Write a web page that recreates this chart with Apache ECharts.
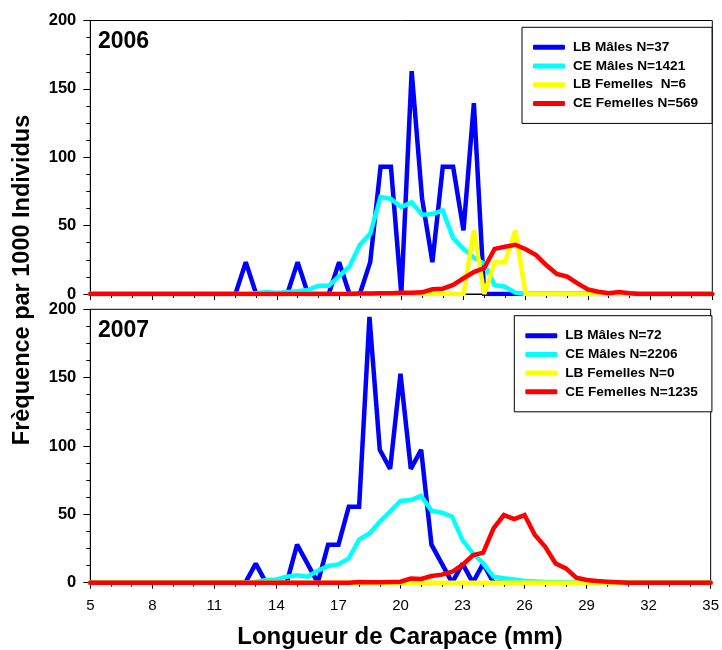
<!DOCTYPE html>
<html>
<head>
<meta charset="utf-8">
<script src="https://cdn.jsdelivr.net/npm/echarts@6/dist/echarts.min.js"></script>
<style>
  html, body { margin: 0; padding: 0; background: #fff; }
  #chart { width: 722px; height: 650px; }
</style>
</head>
<body>
<div id="chart"></div>
<script>
// Carapace length classes (mm), 0.5 mm steps
const lengths = [
  5, 5.5, 6, 6.5, 7, 7.5, 8, 8.5, 9, 9.5,
  10, 10.5, 11, 11.5, 12, 12.5, 13, 13.5, 14, 14.5,
  15, 15.5, 16, 16.5, 17, 17.5, 18, 18.5, 19, 19.5,
  20, 20.5, 21, 21.5, 22, 22.5, 23, 23.5, 24, 24.5,
  25, 25.5, 26, 26.5, 27, 27.5, 28, 28.5, 29, 29.5,
  30, 30.5, 31, 31.5, 32, 32.5, 33, 33.5, 34, 34.5,
  35
];

const xTicks = [5, 8, 11, 14, 17, 20, 23, 26, 29, 32, 35];
const yTicks = [0, 50, 100, 150, 200];

// 2006 — frequency per 1000 individuals
const names2006 = ['LB Mâles N=37', 'CE Mâles N=1421', 'LB Femelles  N=6', 'CE Femelles N=569'];
const lbMales2006 = [
  0, 0, 0, 0, 0, 0, 0, 0, 0, 0,
  0, 0, 0, 0, 0, 23.3, 0, 0, 0, 0,
  23.3, 0, 0, 0, 23.3, 0, 0, 23.3, 93, 93,
  0, 163, 70, 23.3, 93, 93, 46.5, 139.5, 0, 0,
  0, 0, 0, 0, 0, 0, 0, 0, 0, 0,
  0, 0, 0, 0, 0, 0, 0, 0, 0, 0,
  0
];
const ceMales2006 = [
  0, 0, 0, 0, 0, 0, 0, 0, 0, 0,
  0, 0, 0, 0, 0, 0, 0.5, 1.5, 0.7, 1.5,
  2, 3, 6, 6, 13, 20, 36, 44, 71, 69.5,
  63.5, 67, 58, 58.5, 61, 41, 33, 26.5, 22, 6.5,
  5.3, 1, 0, 0, 0, 0, 0, 0, 0, 0,
  0, 0, 0, 0, 0, 0, 0, 0, 0, 0,
  0
];
const lbFemelles2006 = [
  0, 0, 0, 0, 0, 0, 0, 0, 0, 0,
  0, 0, 0, 0, 0, 0, 0, 0, 0, 0,
  0, 0, 0, 0, 0, 0, 0, 0, 0, 0,
  0, 0, 0, 0, 0, 0, 0, 46.5, 0, 23.3,
  23.3, 46.5, 0, 0, 0, 0, 0, 0, 0, 0,
  0, 0, 0, 0, 0, 0, 0, 0, 0, 0,
  0
];
const ceFemelles2006 = [
  0, 0, 0, 0, 0, 0, 0, 0, 0, 0,
  0, 0, 0, 0, 0, 0, 0, 0, 0, 0,
  0, 0, 0, 0, 0, 0, 0.3, 0.3, 0.5, 0.5,
  1, 1, 1.2, 3.4, 3.9, 6.6, 11.5, 16, 19, 33,
  34.6, 36, 32.7, 28.5, 21, 14.6, 12.7, 7.8, 3.4, 1.7,
  0.5, 1.5, 0.5, 0, 0, 0, 0, 0, 0, 0,
  0
];

// 2007 — frequency per 1000 individuals
const names2007 = ['LB Mâles N=72', 'CE Mâles N=2206', 'LB Femelles N=0', 'CE Femelles N=1235'];
const lbMales2007 = [
  0, 0, 0, 0, 0, 0, 0, 0, 0, 0,
  0, 0, 0, 0, 0, 0, 13.9, 0, 0, 0,
  27.8, 13.9, 0, 27.8, 27.8, 55.6, 55.6, 194.4, 97.2, 83.3,
  152.8, 83.3, 97.2, 27.8, 13.9, 0, 13.9, 0, 13.9, 0,
  0, 0, 0, 0, 0, 0, 0, 0, 0, 0,
  0, 0, 0, 0, 0, 0, 0, 0, 0, 0,
  0
];
const ceMales2007 = [
  0, 0, 0, 0, 0, 0, 0, 0, 0, 0,
  0, 0, 0, 0, 0, 0, 0.5, 2, 2.4, 4.4,
  5.4, 4.4, 8.8, 12.2, 13.4, 17.8, 31.5, 36, 44.6, 52,
  59.8, 60.5, 63.4, 52.7, 51.2, 48.3, 31.2, 21.5, 14.1, 4.4,
  3.2, 2.4, 1.2, 0.8, 0.5, 0.4, 0.3, 0.2, 0.1, 0,
  0, 0, 0, 0, 0, 0, 0, 0, 0, 0,
  0
];
const lbFemelles2007 = [
  0, 0, 0, 0, 0, 0, 0, 0, 0, 0,
  0, 0, 0, 0, 0, 0, 0, 0, 0, 0,
  0, 0, 0, 0, 0, 0, 0, 0, 0, 0,
  0, 0, 0, 0, 0, 0, 0, 0, 0, 0,
  0, 0, 0, 0, 0, 0, 0, 0, 0, 0,
  0, 0, 0, 0, 0, 0, 0, 0, 0, 0,
  0
];
const ceFemelles2007 = [
  0, 0, 0, 0, 0, 0, 0, 0, 0, 0,
  0, 0, 0, 0, 0, 0, 0, 0, 0, 0,
  0, 0, 0, 0, 0, 0, 0.5, 0.4, 0.3, 0.5,
  0.7, 3, 2.7, 4.9, 5.9, 8, 13, 20, 22, 39.7,
  49.5, 46.6, 49.5, 34.9, 26.3, 14.1, 10.5, 3.7, 2, 1.2,
  0.7, 0.3, 0, 0, 0, 0, 0, 0, 0, 0,
  0
];

const seriesColors = ['#0000ff', '#00ffff', '#ffff00', '#ff0000'];

const FONT = '"Liberation Sans", Arial, Helvetica, sans-serif';

const panels = [
  { year: '2006', names: names2006, values: [lbMales2006, ceMales2006, lbFemelles2006, ceFemelles2006] },
  { year: '2007', names: names2007, values: [lbMales2007, ceMales2007, lbFemelles2007, ceFemelles2007] }
];

const gridBoxes = [
  { left: 90.3, top: 20.5, width: 622, height: 273.5 },
  { left: 90.3, top: 309.3, width: 622, height: 273.4 }
];

const legendBoxes = [
  { left: 522, top: 27.3 },
  { left: 514.3, top: 315.7 }
];

function pairs(vals) {
  return lengths.map((x, i) => [x, vals[i]]);
}

const grid = gridBoxes.map(b => ({
  left: b.left, top: b.top, width: b.width, height: b.height,
  show: true, borderColor: '#000', borderWidth: 1, backgroundColor: 'transparent'
}));

const xAxis = gridBoxes.map((b, gi) => ({
  type: 'value',
  gridIndex: gi,
  min: xTicks[0],
  max: xTicks[xTicks.length - 1],
  interval: xTicks[1] - xTicks[0],
  axisLine: { show: true, lineStyle: { color: '#000', width: 1 } },
  axisTick: { show: true, length: 6, lineStyle: { color: '#000', width: 1 } },
  minorTick: { show: true, splitNumber: 3, length: 4, lineStyle: { color: '#000', width: 1 } },
  splitLine: { show: false },
  minorSplitLine: { show: false },
  axisLabel: {
    show: gi === 1,
    margin: 16,
    color: '#000',
    fontFamily: FONT,
    fontSize: 15
  }
}));

const yAxis = gridBoxes.map((b, gi) => ({
  type: 'value',
  gridIndex: gi,
  min: yTicks[0],
  max: yTicks[yTicks.length - 1],
  interval: yTicks[1] - yTicks[0],
  axisLine: { show: true, lineStyle: { color: '#000', width: 1 } },
  axisTick: { show: true, length: 7, lineStyle: { color: '#000', width: 1 } },
  minorTick: { show: true, splitNumber: 4, length: 4, lineStyle: { color: '#000', width: 1 } },
  splitLine: { show: false },
  axisLabel: {
    margin: 14,
    color: '#000',
    fontFamily: FONT,
    fontSize: 16.5,
    fontWeight: 'bold'
  }
}));

const series = [];
panels.forEach((p, gi) => {
  p.values.forEach((vals, si) => {
    series.push({
      name: p.names[si],
      type: 'line',
      xAxisIndex: gi,
      yAxisIndex: gi,
      data: pairs(vals),
      symbol: 'none',
      showSymbol: false,
      silent: true,
      z: 2 + si,
      color: seriesColors[si],
      lineStyle: { color: seriesColors[si], width: 4.5, cap: 'round', join: 'miter', miterLimit: 2 }
    });
  });
});

const legend = panels.map((p, gi) => ({
  data: p.names,
  orient: 'vertical',
  left: legendBoxes[gi].left,
  top: legendBoxes[gi].top,
  padding: [13, 14, 13, 11],
  itemGap: 4.7,
  icon: 'roundRect',
  itemWidth: 32,
  itemHeight: 5,
  borderColor: '#000',
  borderWidth: 1,
  borderRadius: 0,
  backgroundColor: '#fff',
  selectedMode: false,
  textStyle: {
    color: '#000',
    fontFamily: FONT,
    fontSize: 13.6,
    fontWeight: 'bold',
    lineHeight: 14,
    padding: [0, 0, 0, 3]
  },
  z: 10
}));

const graphic = [
  {
    type: 'text', left: 98, top: 30,
    style: { text: panels[0].year, font: 'bold 23px ' + FONT, fill: '#000' }
  },
  {
    type: 'text', left: 98, top: 319,
    style: { text: panels[1].year, font: 'bold 23px ' + FONT, fill: '#000' }
  },
  {
    type: 'text', x: 23, y: 280, rotation: Math.PI / 2,
    style: {
      text: 'Frèquence par 1000 Individus',
      font: 'bold 23.5px ' + FONT, fill: '#000',
      textAlign: 'center', textVerticalAlign: 'middle'
    }
  },
  {
    type: 'text', x: 400, y: 637,
    style: {
      text: 'Longueur de Carapace (mm)',
      font: 'bold 24px ' + FONT, fill: '#000',
      textAlign: 'center', textVerticalAlign: 'middle'
    }
  }
];

const chart = echarts.init(document.getElementById('chart'), null, { renderer: 'canvas' });
chart.setOption({
  animation: false,
  backgroundColor: '#fff',
  grid, xAxis, yAxis, series, legend, graphic
});
</script>
</body>
</html>
